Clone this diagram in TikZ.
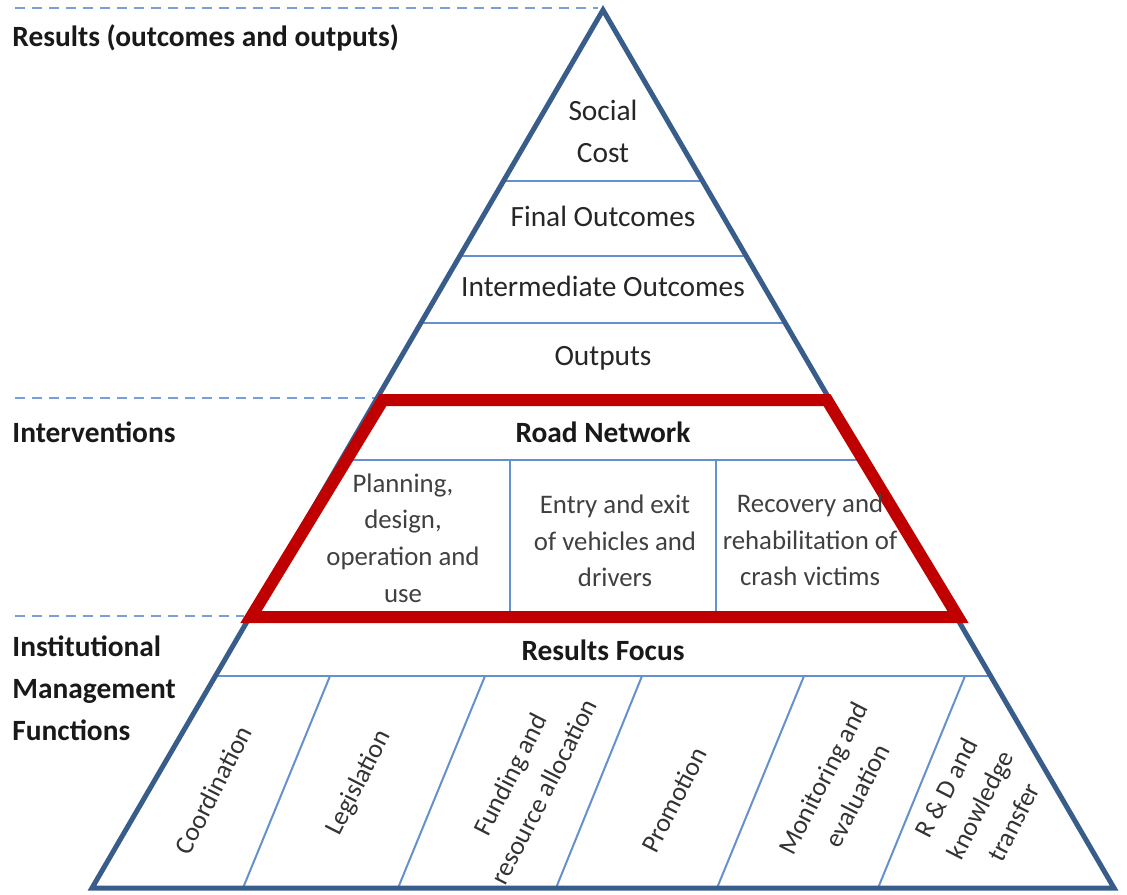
\documentclass[tikz,border=0pt]{standalone}
\usepackage{fontspec}
\setmainfont{Carlito}
\usetikzlibrary{calc}

\definecolor{triblue}{RGB}{56,93,138}
\definecolor{lineblue}{RGB}{100,145,205}
\definecolor{guideblue}{RGB}{120,160,215}
\definecolor{focusred}{RGB}{192,0,0}

\begin{document}
\begin{tikzpicture}[x=0.5pt,y=-0.5pt,
  frame/.style={draw=triblue,line width=2.5pt,line join=miter},
  divider/.style={draw=lineblue,line width=1pt},
  guide/.style={draw=guideblue,line width=1.2pt,dash pattern=on 5pt off 3.5pt},
  focus/.style={draw=focusred,line width=6pt,line join=miter},
  level/.style={text=black!85,align=center,font=\fontsize{14.7}{21}\selectfont},
  cell/.style={text=black!75,align=center,font=\fontsize{13.4}{18.3}\selectfont},
  head/.style={text=black!90,font=\bfseries\fontsize{14.7}{21}\selectfont},
  side/.style={anchor=west,align=left,inner xsep=0pt,text=black!90,font=\bfseries\fontsize{14.7}{21}\selectfont},
  func/.style={text=black!80,align=center,rotate=63,inner sep=1pt,font=\fontsize{13.2}{19}\selectfont}]
\useasboundingbox (0,0) rectangle (1127,894);

% guides
\draw[guide] (15,8) -- (598,8);
\draw[guide] (15,398) -- (378,398);
\draw[guide] (15,616) -- (244,616);

\node[side] (results) at (12,38) {Results (outcomes and outputs)};
\node[side] (interv) at (12,432) {Interventions};
\node[side] (inst) at (12,688) {Institutional\\Management\\Functions};

% pyramid
\coordinate (apex) at (603,10);
\coordinate (bl) at (92,888);
\coordinate (br) at (1114,888);

\foreach \t in {0.1948,0.2802,0.3565,0.7585}
  \draw[divider] ($(apex)!\t!(bl)$) -- ($(apex)!\t!(br)$);

\draw[divider] (346,460) -- (863,460);
\draw[divider] (510,460) -- (510,614);
\draw[divider] (716,460) -- (716,614);

\draw[divider] (330,676) -- (243,888);
\draw[divider] (485,676) -- (398,888);
\draw[divider] (642,676) -- (556,888);
\draw[divider] (804,676) -- (717,888);
\draw[divider] (965,676) -- (878,888);

\draw[frame] (apex) -- (bl) -- (br) -- cycle;

% road network
\draw[focus] (383,400) -- (827,400) -- (958,617) -- (251,617) -- cycle;

\node[level] (social) at (603,131) {Social\\Cost};
\node[level] (final) at (603,216) {Final Outcomes};
\node[level] (inter) at (603,286) {Intermediate Outcomes};
\node[level] (outputs) at (603,358) {Outputs};

\node[head] (road) at (603,432) {Road Network};
\node[cell] (plan) at (403,538) {Planning,\\design,\\operation and\\use};
\node[cell] (entry) at (615,541) {Entry and exit\\of vehicles and\\drivers};
\node[cell] (recov) at (810,540) {Recovery and\\rehabilitation of\\crash victims};

\node[head] (focus) at (603,650) {Results Focus};
\node[func] (coord) at (213,790) {Coordination};
\node[func] (legis) at (359,783) {Legislation};
\node[func] (fund) at (527,783) {Funding and\\resource allocation};
\node[func] (promo) at (674,800) {Promotion};
\node[func] (monit) at (840,787) {Monitoring and\\evaluation};
\node[func] (rnd) at (980,805) {R \& D and\\knowledge\\transfer};
\end{tikzpicture}
\end{document}
